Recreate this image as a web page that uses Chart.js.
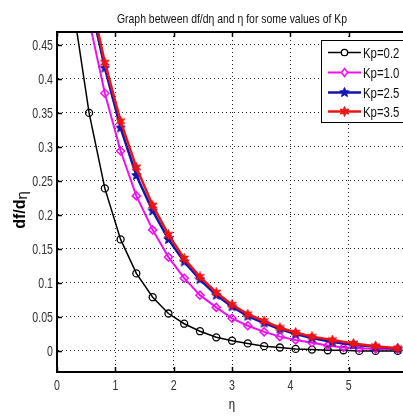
<!DOCTYPE html>
<html>
<head>
<meta charset="utf-8">
<script src="https://cdn.jsdelivr.net/npm/chart.js@4"></script>
<style>
  html, body { margin: 0; padding: 0; background: #fff; }
  #wrap { width: 403px; height: 417px; }
</style>
</head>
<body>
<div id="wrap"><canvas id="chart" width="403" height="417"></canvas></div>
<script>
// eta grid (the two larger Kp runs use a coarser mesh near the end)
const etaFine = [0, 0.27, 0.55, 0.82, 1.09, 1.36, 1.64, 1.91, 2.18, 2.45, 2.73, 3.0, 3.27, 3.55, 3.82, 4.09, 4.37, 4.64, 4.91, 5.18, 5.46, 5.84];
const etaCoarse = [0, 0.27, 0.55, 0.82, 1.09, 1.36, 1.64, 1.91, 2.18, 2.45, 2.73, 3.0, 3.27, 3.55, 3.82, 4.09, 4.37, 4.72, 5.08, 5.46, 5.84];

// df/deta
const kp02 = [0.75, 0.51, 0.35, 0.239, 0.164, 0.114, 0.079, 0.055, 0.040, 0.029, 0.020, 0.015, 0.011, 0.007, 0.005, 0.003, 0.002, 0.001, 0.001, 0.000, 0.000, 0.000];
const kp10 = [0.80, 0.62, 0.486, 0.379, 0.294, 0.228, 0.178, 0.138, 0.107, 0.082, 0.064, 0.048, 0.037, 0.028, 0.021, 0.016, 0.012, 0.008, 0.005, 0.004, 0.003, 0.003];
const kp25 = [0.83, 0.66, 0.52, 0.416, 0.328, 0.258, 0.206, 0.164, 0.131, 0.105, 0.082, 0.065, 0.051, 0.041, 0.032, 0.025, 0.019, 0.013, 0.009, 0.006, 0.003];
const kp35 = [0.84, 0.67, 0.53, 0.424, 0.338, 0.270, 0.214, 0.171, 0.136, 0.109, 0.086, 0.068, 0.054, 0.044, 0.034, 0.027, 0.021, 0.016, 0.011, 0.007, 0.004];

const seriesLabels = ['Kp=0.2', 'Kp=1.0', 'Kp=2.5', 'Kp=3.5'];
const xTicks = [0, 1, 2, 3, 4, 5];
const xTickLabels = ['0', '1', '2', '3', '4', '5'];
const yTicks = [0, 0.05, 0.1, 0.15, 0.2, 0.25, 0.3, 0.35, 0.4, 0.45];
const yTickLabels = ['0', '0.05', '0.1', '0.15', '0.2', '0.25', '0.3', '0.35', '0.4', '0.45'];
const chartTitle = 'Graph between df/d\u03b7 and \u03b7 for some values of Kp';

const FONT = "'Liberation Sans', Arial, sans-serif";
const SQUEEZE = 0.76; // the original text is horizontally condensed

function pairs(xs, ys) {
    return xs.map((x, i) => ({ x: x, y: ys[i] }));
}

// draw text squeezed horizontally; align: 'left' | 'center' | 'right'
function squeezedText(ctx, text, x, y, align, sx) {
    const w = ctx.measureText(text).width * sx;
    let left = x;
    if (align === 'center') left = x - w / 2;
    if (align === 'right') left = x - w;
    ctx.save();
    ctx.translate(left, y);
    ctx.scale(sx, 1);
    ctx.textAlign = 'left';
    ctx.fillText(text, 0, 0);
    ctx.restore();
}

// filled star marker as a small canvas
function makeStar(color, spikes, size) {
    const c = document.createElement('canvas');
    c.width = size; c.height = size;
    const g = c.getContext('2d');
    const r1 = size / 2 - 0.5, r2 = r1 * 0.45;
    g.beginPath();
    for (let i = 0; i < spikes * 2; i++) {
        const r = i % 2 === 0 ? r1 : r2;
        const a = -Math.PI / 2 + i * Math.PI / spikes;
        const px = size / 2 + r * Math.cos(a), py = size / 2 + r * Math.sin(a);
        if (i === 0) g.moveTo(px, py); else g.lineTo(px, py);
    }
    g.closePath();
    g.fillStyle = color;
    g.fill();
    g.strokeStyle = color;
    g.lineWidth = 1;
    g.stroke();
    return c;
}

const colors = ['#000000', '#ee10ee', '#1414b0', '#ee1414'];
const blueStar = makeStar(colors[2], 5, 11);
const redStar = makeStar(colors[3], 6, 11);

const decorations = {
    id: 'decorations',
    afterDraw(chart) {
        const { ctx, chartArea: a } = chart;
        const xs = chart.scales.x, ys = chart.scales.y;
        ctx.save();

        // box top line
        ctx.strokeStyle = '#000';
        ctx.lineWidth = 2;
        ctx.beginPath();
        ctx.moveTo(a.left, a.top);
        ctx.lineTo(a.right, a.top);
        ctx.stroke();

        // inner tick marks
        ctx.lineWidth = 1.5;
        xTicks.forEach(v => {
            const px = Math.round(xs.getPixelForValue(v)) + 0.5;
            ctx.beginPath();
            ctx.moveTo(px, a.bottom); ctx.lineTo(px, a.bottom - 5);
            ctx.moveTo(px, a.top); ctx.lineTo(px, a.top + 5);
            ctx.stroke();
        });
        yTicks.forEach(v => {
            const py = Math.round(ys.getPixelForValue(v)) + 0.5;
            ctx.beginPath();
            ctx.moveTo(a.left, py); ctx.lineTo(a.left + 5, py);
            ctx.stroke();
        });

        // tick labels
        ctx.fillStyle = '#333';
        ctx.font = '14px ' + FONT;
        ctx.textBaseline = 'middle';
        yTicks.forEach((v, i) => {
            squeezedText(ctx, yTickLabels[i], a.left - 4, ys.getPixelForValue(v) + 1, 'right', SQUEEZE);
        });
        xTicks.forEach((v, i) => {
            squeezedText(ctx, xTickLabels[i], xs.getPixelForValue(v), a.bottom + 14, 'center', SQUEEZE);
        });

        // title
        ctx.fillStyle = '#111';
        ctx.font = '13px ' + FONT;
        const tw = ctx.measureText(chartTitle).width;
        squeezedText(ctx, chartTitle, 232, 19, 'center', 230 / tw);

        // x axis title
        ctx.font = '15px ' + FONT;
        squeezedText(ctx, '\u03b7', 232, 405, 'center', SQUEEZE);

        // y axis title (rotated)
        ctx.save();
        ctx.translate(21, 210);
        ctx.rotate(-Math.PI / 2);
        ctx.font = 'bold 16px ' + FONT;
        const w1 = ctx.measureText('df/d').width;
        ctx.font = '15px ' + FONT;
        const w2 = ctx.measureText('\u03b7').width;
        const sx = -(w1 + w2) / 2;
        ctx.textAlign = 'left';
        ctx.font = 'bold 16px ' + FONT;
        ctx.fillStyle = '#000';
        ctx.fillText('df/d', sx, 0);
        ctx.font = '15px ' + FONT;
        ctx.fillText('\u03b7', sx + w1, 2);
        ctx.restore();

        // legend
        const lx = 321.5, ly = 40.5;
        ctx.fillStyle = '#fff';
        ctx.fillRect(lx, ly, 100, 82);
        ctx.strokeStyle = '#000';
        ctx.lineWidth = 1;
        ctx.strokeRect(lx, ly, 100, 82);
        const rowY = [52.5, 72.5, 92.5, 111.5];
        const widths = [1.5, 2, 2.5, 2.5];
        seriesLabels.forEach((label, i) => {
            const y = rowY[i];
            ctx.strokeStyle = colors[i];
            ctx.lineWidth = widths[i];
            ctx.beginPath();
            ctx.moveTo(328, y); ctx.lineTo(361, y);
            ctx.stroke();
            const mx = 344.5;
            if (i === 0) {
                ctx.lineWidth = 1.3;
                ctx.beginPath();
                ctx.arc(mx, y, 3.2, 0, Math.PI * 2);
                ctx.fillStyle = '#fff';
                ctx.fill();
                ctx.stroke();
            } else if (i === 1) {
                ctx.lineWidth = 1.5;
                ctx.beginPath();
                ctx.moveTo(mx, y - 4); ctx.lineTo(mx + 3, y); ctx.lineTo(mx, y + 4); ctx.lineTo(mx - 3, y);
                ctx.closePath();
                ctx.fillStyle = '#fff';
                ctx.fill();
                ctx.stroke();
            } else {
                const img = i === 2 ? blueStar : redStar;
                ctx.drawImage(img, mx - img.width / 2, y - img.height / 2);
            }
            ctx.fillStyle = '#111';
            ctx.font = '15px ' + FONT;
            ctx.textBaseline = 'middle';
            squeezedText(ctx, label, 363, y + 1, 'left', SQUEEZE);
        });

        ctx.restore();
    }
};

const ctx = document.getElementById('chart').getContext('2d');
new Chart(ctx, {
    type: 'line',
    data: {
        datasets: [{
            label: seriesLabels[0],
            data: pairs(etaFine, kp02),
            borderColor: colors[0],
            borderWidth: 1.5,
            pointStyle: 'circle',
            pointRadius: 3.5,
            pointBorderWidth: 1.3,
            pointBackgroundColor: 'rgba(255,255,255,0)',
            pointBorderColor: colors[0],
            order: 3
        }, {
            label: seriesLabels[1],
            data: pairs(etaFine, kp10),
            borderColor: colors[1],
            borderWidth: 2,
            pointStyle: 'rectRot',
            pointRadius: 4,
            pointBorderWidth: 1.5,
            pointBackgroundColor: 'rgba(255,255,255,0)',
            pointBorderColor: colors[1],
            order: 2
        }, {
            label: seriesLabels[2],
            data: pairs(etaCoarse, kp25),
            borderColor: colors[2],
            borderWidth: 2.5,
            pointStyle: blueStar,
            pointRadius: 5,
            order: 1
        }, {
            label: seriesLabels[3],
            data: pairs(etaCoarse, kp35),
            borderColor: colors[3],
            borderWidth: 2.5,
            pointStyle: redStar,
            pointRadius: 5,
            order: 0
        }]
    },
    options: {
        responsive: false,
        animation: false,
        devicePixelRatio: 1,
        layout: { autoPadding: false, padding: { top: 32, left: 0, right: 0, bottom: 0 } },
        elements: { line: { tension: 0, fill: false } },
        plugins: {
            legend: { display: false },
            title: { display: false },
            tooltip: { enabled: false }
        },
        scales: {
            x: {
                type: 'linear',
                min: 0,
                max: 5.93,
                afterBuildTicks: s => { s.ticks = xTicks.map(v => ({ value: v })); },
                afterFit: s => { s.height = 45; s.paddingLeft = 0; s.paddingRight = 0; },
                ticks: { display: false },
                grid: { color: '#222', lineWidth: 1, drawTicks: false },
                border: { display: true, color: '#000', width: 2, dash: [1, 3] }
            },
            y: {
                type: 'linear',
                min: -0.031,
                max: 0.469,
                afterBuildTicks: s => { s.ticks = yTicks.map(v => ({ value: v })); },
                afterFit: s => { s.width = 57; s.paddingTop = 0; s.paddingBottom = 0; },
                ticks: { display: false },
                grid: { color: '#222', lineWidth: 1, drawTicks: false },
                border: { display: true, color: '#000', width: 2, dash: [1, 3] }
            }
        }
    },
    plugins: [decorations]
});
</script>
</body>
</html>
